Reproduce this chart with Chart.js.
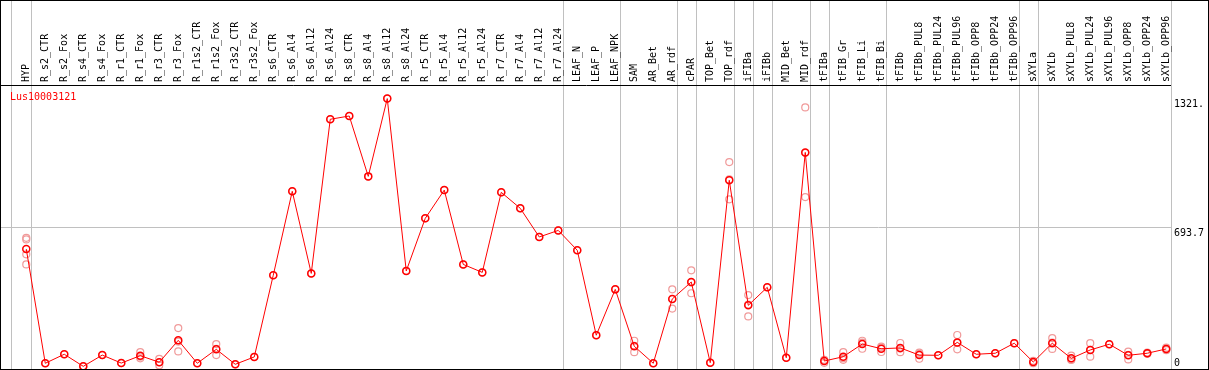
<!DOCTYPE html>
<html>
<head>
<meta charset="utf-8">
<script src="https://cdn.jsdelivr.net/npm/chart.js@4"></script>
<style>
  body { margin: 0; background: #fff; }
  #wrap { position: relative; width: 1209px; height: 370px; border: 1px solid #000; box-sizing: border-box; }
  #geneName { position: absolute; left: 9px; top: 90px; font: 10px "DejaVu Sans Mono", monospace; line-height: 12px; color: #ff0000; }
</style>
</head>
<body>
<div id="wrap">
  <canvas id="expr"></canvas>
  <div id="geneName">Lus10003121</div>
</div>
<script>
// Expression profile data
const samples = ['HYP', 'R_s2_CTR', 'R_s2_Fox', 'R_s4_CTR', 'R_s4_Fox', 'R_r1_CTR', 'R_r1_Fox', 'R_r3_CTR', 'R_r3_Fox',
  'R_r1s2_CTR', 'R_r1s2_Fox', 'R_r3s2_CTR', 'R_r3s2_Fox', 'R_s6_CTR', 'R_s6_Al4', 'R_s6_Al12', 'R_s6_Al24',
  'R_s8_CTR', 'R_s8_Al4', 'R_s8_Al12', 'R_s8_Al24', 'R_r5_CTR', 'R_r5_Al4', 'R_r5_Al12', 'R_r5_Al24',
  'R_r7_CTR', 'R_r7_Al4', 'R_r7_Al12', 'R_r7_Al24', 'LEAF_N', 'LEAF_P', 'LEAF_NPK', 'SAM', 'AR_Bet', 'AR_rdf',
  'cPAR', 'TOP_Bet', 'TOP_rdf', 'iFIBa', 'iFIBb', 'MID_Bet', 'MID_rdf', 'tFIBa', 'tFIB_Gr', 'tFIB_Li', 'tFIB_Bi',
  'tFIBb', 'tFIBb_PUL8', 'tFIBb_PUL24', 'tFIBb_PUL96', 'tFIBb_OPP8', 'tFIBb_OPP24', 'tFIBb_OPP96',
  'sXYLa', 'sXYLb', 'sXYLb_PUL8', 'sXYLb_PUL24', 'sXYLb_PUL96', 'sXYLb_OPP8', 'sXYLb_OPP24', 'sXYLb_OPP96'];

const meanValues = [586, 28, 72, 13, 68, 29, 65, 33, 140, 28, 96, 23, 59, 458, 868, 467, 1220, 1236, 941, 1321,
  479, 736, 874, 511, 472, 863, 785, 645, 677, 580, 165, 389, 111, 28, 342, 425, 31, 922, 311, 399, 55, 1058,
  39, 60, 122, 99, 103, 68, 67, 130, 72, 77, 126, 34, 126, 52, 93, 121, 67, 77, 98];

const replicates = [[641, 633, 560, 511], [28], [72], [13], [68], [29], [82, 60, 52], [49, 33, 18], [200, 134, 86],
  [28], [122, 98, 68], [23], [59], [458], [868], [467], [1220], [1236], [941], [1321], [479], [736], [874], [511],
  [472], [863], [785], [645], [677], [580], [165], [389], [138, 113, 82], [28], [389, 342, 295], [482, 423, 370],
  [31], [1011, 926, 829], [361, 315, 257], [399], [55], [1278, 1056, 840], [45, 30], [82, 53, 45], [138, 129, 99],
  [109, 105, 83], [127, 100, 82], [80, 74, 50], [67], [166, 128, 96], [72], [77], [126], [40, 34, 28],
  [151, 129, 98], [65, 47, 44], [126, 93, 60], [121], [85, 69, 47], [80, 77, 74], [104, 98, 92]];

// group separators sit just after the last sample of each group
const groupEnds = [-0.8, 0.25, 28.25, 31.25, 34.25, 35.25, 37.25, 38.25, 39.25, 41.25, 42.25, 45.25, 52.25, 53.25, 60.25];

const yTicks = [0, 693.7, 1321];
const yTickLabels = ['0', '693.7', '1321.'];
const yMax = 1387.4;

const monoFont = { family: '"DejaVu Sans Mono", monospace', size: 10 };
const sepColor = '#c0c0c0';

const meanPoints = meanValues.map((v, i) => ({ x: i, y: v }));
const repPoints = [];
replicates.forEach((reps, i) => reps.forEach(v => repPoints.push({ x: i, y: v })));

// no extra room around the axes, the frame is drawn edge to edge
function noPadding(scale) {
  scale.paddingLeft = 0;
  scale.paddingRight = 0;
  scale.paddingTop = 0;
  scale.paddingBottom = 0;
}

const ctx = document.getElementById('expr').getContext('2d');
new Chart(ctx, {
  type: 'line',
  data: {
    datasets: [{
      label: 'Lus10003121',
      data: meanPoints,
      borderColor: '#ff0000',
      borderWidth: 1,
      pointStyle: 'circle',
      pointRadius: 3.5,
      pointBorderWidth: 1.5,
      pointBorderColor: '#ff0000',
      pointBackgroundColor: 'rgba(255,255,255,0)',
      tension: 0,
      clip: false,
      order: 1
    }, {
      label: 'replicates',
      data: repPoints,
      showLine: false,
      pointStyle: 'circle',
      pointRadius: 3.5,
      pointBorderWidth: 1.2,
      pointBorderColor: '#f09a9a',
      pointBackgroundColor: 'rgba(255,255,255,0)',
      clip: false,
      order: 2
    }]
  },
  options: {
    responsive: true,
    maintainAspectRatio: false,
    animation: false,
    layout: { padding: 0, autoPadding: false },
    plugins: { legend: { display: false }, tooltip: { enabled: false }, title: { display: false } },
    scales: {
      x: {
        type: 'linear',
        position: 'top',
        min: -1.33,
        max: 60.25,
        afterBuildTicks: (scale) => {
          const t = samples.map((s, i) => ({ value: i }));
          groupEnds.forEach(v => t.push({ value: v }));
          t.sort((a, b) => a.value - b.value);
          scale.ticks = t;
        },
        afterFit: (scale) => { scale.height = 84; noPadding(scale); },
        ticks: {
          autoSkip: false,
          minRotation: 90,
          maxRotation: 90,
          padding: -81,
          labelOffset: 12,
          font: monoFont,
          color: '#000',
          callback: (v) => Number.isInteger(v) ? samples[v] : ''
        },
        grid: {
          drawTicks: true,
          tickLength: 84,
          lineWidth: 1,
          color: (c) => (c.tick && !Number.isInteger(c.tick.value)) ? sepColor : 'rgba(0,0,0,0)'
        },
        border: { display: true, color: '#000', width: 1 }
      },
      y: {
        type: 'linear',
        position: 'right',
        min: 0,
        max: yMax,
        afterBuildTicks: (scale) => { scale.ticks = yTicks.map(v => ({ value: v })); },
        afterFit: (scale) => { scale.width = 37; noPadding(scale); },
        ticks: {
          padding: 3,
          font: monoFont,
          color: '#000',
          callback: (v) => {
            const lbl = yTickLabels[yTicks.indexOf(v)];
            return v === 0 ? [lbl, ''] : ['', lbl];
          }
        },
        grid: {
          drawTicks: false,
          color: (c) => (c.tick && c.tick.value === 693.7) ? sepColor : 'rgba(0,0,0,0)'
        },
        border: { display: true, color: sepColor, width: 1 }
      }
    }
  }
});
</script>
</body>
</html>
